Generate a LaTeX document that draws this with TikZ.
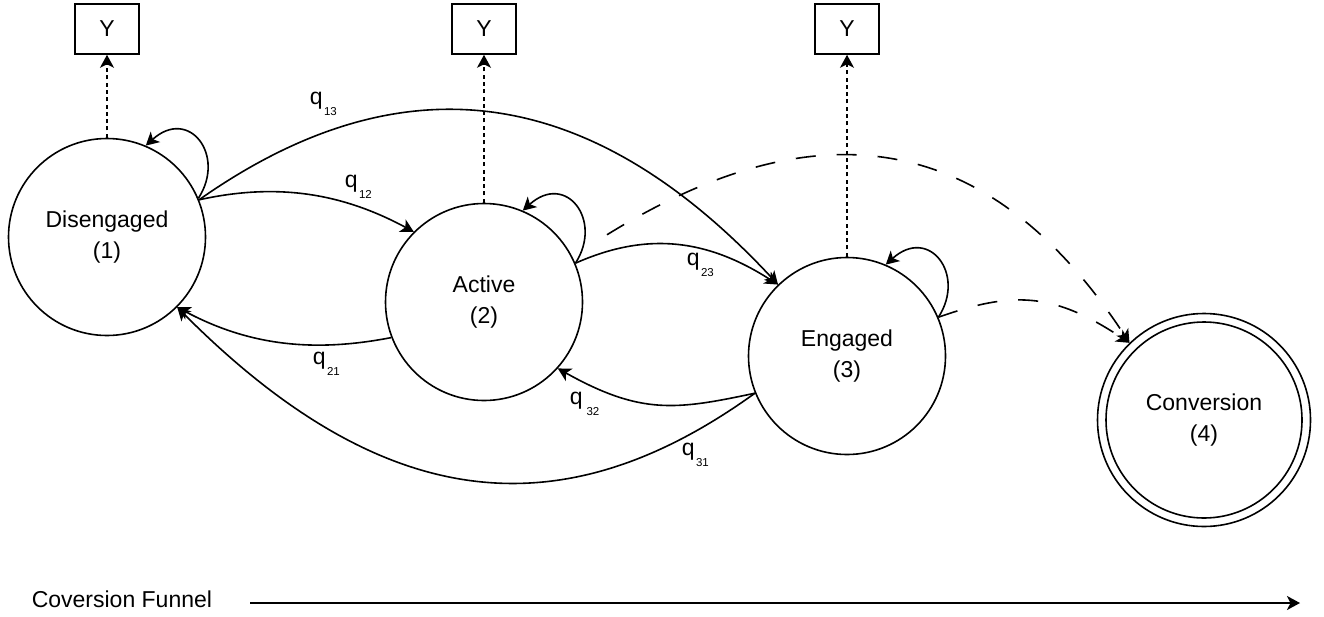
\documentclass[tikz,border=0pt]{standalone}
\usepackage{fontspec}
\setmainfont{Liberation Sans}
\usetikzlibrary{arrows.meta}
\newcommand{\qsub}[2][1.5pt]{q\hspace{#1}\raisebox{-11pt}{\fontsize{11.5}{12}\selectfont #2}}
\begin{document}
\begin{tikzpicture}[x=1pt,y=-1pt,line width=1.6pt,
  state/.style={circle,draw,minimum size=197pt,inner sep=0pt,align=center,font=\fontsize{23}{31}\selectfont},
  ybox/.style={draw,minimum width=64pt,minimum height=50pt,inner sep=0pt,font=\fontsize{23}{27}\selectfont},
  arr/.style={-{Stealth[length=13pt,width=14pt,inset=3.5pt]}},
  dotline/.style={dash pattern=on 4pt off 3.3pt},
  dashline/.style={dash pattern=on 20pt off 21pt},
  lbl/.style={anchor=base west,inner sep=0pt,font=\fontsize{23}{27}\selectfont}]
\useasboundingbox (0,0) rectangle (1324,616);
% states
\node[state] (n1) at (107,237) {Disengaged\\(1)};
\node[state] (n2) at (484,302) {Active\\(2)};
\node[state] (n3) at (847,356) {Engaged\\(3)};
\node[state,minimum size=213pt] (n4) at (1204,420) {Conversion\\(4)};
\draw (n4.center) circle[radius=98pt];
% observation boxes
\node[ybox] (y1) at (107,29) {Y};
\node[ybox] (y2) at (484,29) {Y};
\node[ybox] (y3) at (847,29) {Y};
\draw[arr,dotline] (n1.north) -- (y1.south);
\draw[arr,dotline] (n2.north) -- (y2.south);
\draw[arr,dotline] (n3.north) -- (y3.south);
% self loops
\draw[arr] (n1.23) .. controls +(28,-43) and +(43,-39) .. (n1.67);
\draw[arr] (n2.23) .. controls +(28,-43) and +(43,-39) .. (n2.67);
\draw[arr] (n3.23) .. controls +(28,-43) and +(43,-39) .. (n3.67);
% transitions
\draw[arr] (n1.22) .. controls (412,50) and (600,93) .. (n3.134);
\draw[arr] (n1.22) .. controls (275,183) and (340,192) .. (n2.135);
\draw[arr] (n2.23) .. controls (650,230) and (710,241) .. (n3.134);
\draw[arr] (n2.201) .. controls (312,353) and (248,345) .. (n1.315);
\draw[arr] (n3.202) .. controls (568,528) and (389,520) .. (n1.315);
\draw[arr] (n3.202) .. controls (676,410) and (641,415) .. (n2.318);
\draw[arr,dashline,shorten <=20pt,dash phase=20pt] (n2.27) .. controls (789,116) and (975,107) .. (n4.134);
\draw[arr,dashline] (n3.23) .. controls (1013,291) and (1053,292) .. (n4.134);
% labels
\node[lbl] (l13) at (309,104) {\qsub{13}};
\node[lbl] (l12) at (344,187) {\qsub{12}};
\node[lbl] (l23) at (686,265) {\qsub{23}};
\node[lbl] (l21) at (312,364) {\qsub{21}};
\node[lbl] (l32) at (569,404) {\qsub[4pt]{32}};
\node[lbl] (l31) at (681,455) {\qsub{31}};
% funnel
\node[lbl] (fl) at (31,607) {Coversion Funnel};
\coordinate (fs) at (250,603);
\coordinate (fe) at (1300,603);
\draw[arr] (fs) -- (fe);
\end{tikzpicture}
\end{document}
